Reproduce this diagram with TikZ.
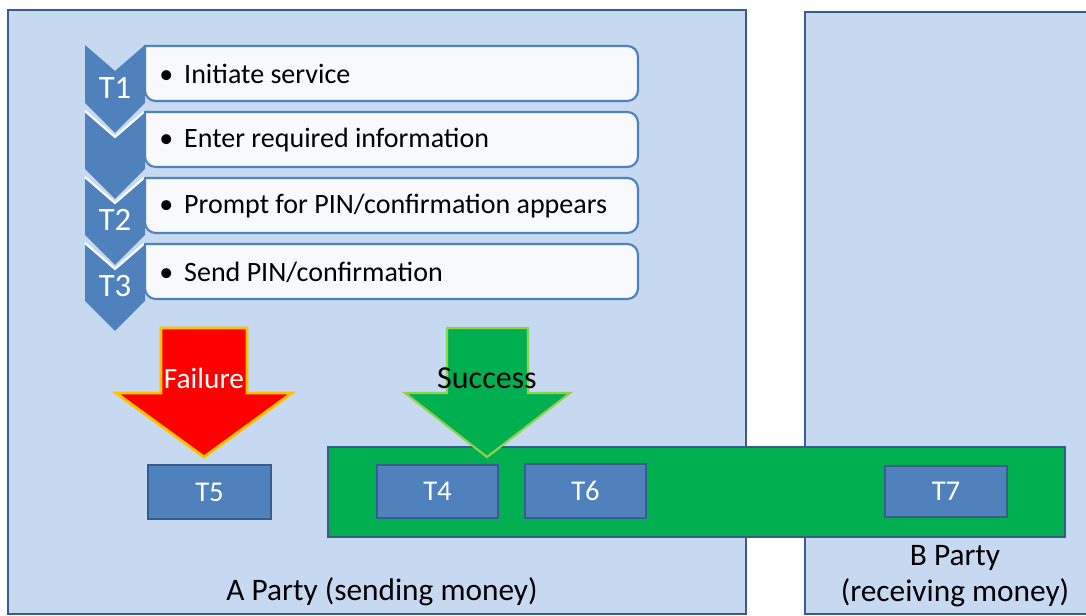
\documentclass[tikz,border=0pt]{standalone}
\usepackage{fontspec}
\setmainfont{Carlito}
\definecolor{bgblue}{HTML}{C6D9F1}
\definecolor{edgeblue}{HTML}{385D8A}
\definecolor{midblue}{HTML}{4F81BD}
\definecolor{boxwhite}{HTML}{F7F9FD}
\definecolor{grn}{HTML}{00B050}
\definecolor{lgrn}{HTML}{92D050}
\definecolor{amber}{HTML}{FFC000}
\tikzset{
  party/.style={fill=bgblue,draw=edgeblue,line width=1.5pt},
  chev/.style={fill=midblue},
  chevsep/.style={draw=white,line width=1.6pt,line join=miter},
  listbox/.style={fill=boxwhite,draw=midblue,line width=1.6pt},
  listtext/.style={anchor=west,inner sep=0pt,font=\fontsize{21}{24}\selectfont},
  chevlabel/.style={text=white,inner sep=0pt,font=\fontsize{24.5}{28}\selectfont},
  tbox/.style={fill=midblue,draw=edgeblue,line width=1.5pt,text=white,
    inner sep=0pt,font=\fontsize{21.5}{25}\selectfont,minimum height=40pt},
  partylabel/.style={inner sep=0pt,font=\fontsize{23.5}{28}\selectfont,align=center},
  arrowlabel/.style={inner sep=0pt,font=\fontsize{22}{26}\selectfont},
}
\begin{document}
\begin{tikzpicture}[x=0.75pt,y=-0.75pt]
\useasboundingbox (0,0) rectangle (1086,616);
\fill[white] (0,0) rectangle (1086,616);
% party areas
\draw[party] (8,10) rectangle (746,614);
\draw[party] (805,12) rectangle (1100,614);
% chevrons
\foreach \t/\lab [count=\i] in {45/T1,111/{},177/T2,243/T3}{
  \fill[chev] (85,\t) -- (115,\t+26) -- (145,\t) -- (145,\t+58) -- (115,\t+88) -- (85,\t+58) -- cycle;
  \ifnum\i>1
    \draw[chevsep] (85,\t) -- (115,\t+26) -- (145,\t);
  \fi
  \node[chevlabel] (chev\i) at (115,\t+43) {\lab};
}
% list boxes
\foreach \t/\txt [count=\i] in {46/{Initiate service},112/{Enter required information},178/{Prompt for PIN/confirmation appears},244/{Send PIN/confirmation}}{
  \draw[listbox,rounded corners=8pt] (145,\t) -- (638,\t) -- (638,\t+55) -- (145,\t+55) [sharp corners] -- cycle;
  \node[listtext] (item\i) at (159,\t+28) {\makebox[18.75pt][l]{•}\txt};
}
% success bar
\draw[fill=grn,draw=edgeblue,line width=1.5pt] (328,447) rectangle (1065,537);
\node[partylabel] (Alabel) at (382,592) {A Party (sending money)};
\node[partylabel] (Blabel) at (955,576) {B Party\\[-1pt](receiving money)};
% T boxes
\node[tbox,minimum width=92pt] (T5) at (209.5,492) {T5};
\node[tbox,minimum width=91pt] (T4) at (437.5,491.5) {T4};
\node[tbox,minimum width=91pt] (T6) at (585.5,491) {T6};
\node[tbox,minimum width=91pt,minimum height=38pt] (T7) at (946,491.5) {T7};
% arrows
\draw[fill=red,draw=amber,line width=2.2pt,line join=miter]
  (161,328) -- (247,328) -- (247,393) -- (292,393) -- (204,457) -- (116,393) -- (161,393) -- cycle;
\node[arrowlabel,text=white] (fail) at (204,378) {Failure};
\draw[fill=grn,draw=lgrn,line width=1.6pt,line join=miter]
  (447,328) -- (528,328) -- (528,393) -- (570,393) -- (487,457) -- (405,393) -- (447,393) -- cycle;
\node[arrowlabel,text=black,font=\fontsize{24}{28}\selectfont] (succ) at (487,378) {Success};
\end{tikzpicture}
\end{document}
